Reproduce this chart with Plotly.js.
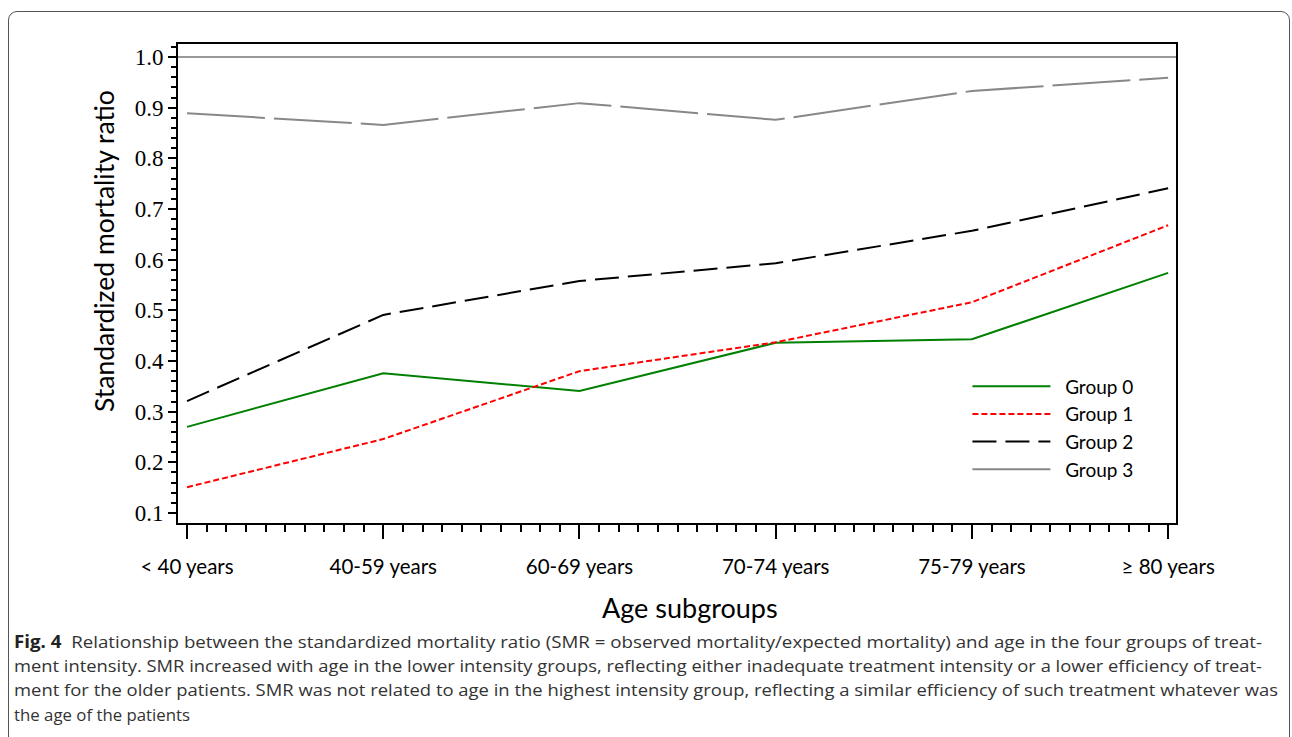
<!DOCTYPE html>
<html>
<head>
<meta charset="utf-8">
<script src="https://cdn.plot.ly/plotly-3.0.1.min.js"></script>
<style>
  html, body { margin: 0; padding: 0; background: #fff; }
  #wrap { position: relative; width: 1292px; height: 737px; overflow: hidden; }
  #chart { position: absolute; left: 0; top: 0; width: 1292px; height: 737px; }
  #frame { position: absolute; left: 8px; top: 11px; width: 1282px; height: 800px;
           border: 1px solid #555; border-radius: 9px; pointer-events: none; box-sizing: border-box; }
  .cap { position: absolute; left: 14px; font-family: "Open Sans", "Noto Sans", sans-serif;
         font-size: 17px; color: #333; white-space: nowrap; transform-origin: 0 50%; line-height: 20px; }
  .cap b { color: #222; }
</style>
</head>
<body>
<div id="wrap">
  <div id="chart"></div>
  <div id="frame"></div>
  <div class="cap" id="c1" data-w="1248" style="top:632px"><b>Fig. 4</b>&nbsp; Relationship between the standardized mortality ratio (SMR = observed mortality/expected mortality) and age in the four groups of treat-</div>
  <div class="cap" id="c2" data-w="1248" style="top:656px">ment intensity. SMR increased with age in the lower intensity groups, reflecting either inadequate treatment intensity or a lower efficiency of treat-</div>
  <div class="cap" id="c3" data-w="1264" style="top:680px">ment for the older patients. SMR was not related to age in the highest intensity group, reflecting a similar efficiency of such treatment whatever was</div>
  <div class="cap" id="c4" data-w="176" style="top:705px">the age of the patients</div>
</div>
<script>
// ---- data ----
const categories = ["< 40 years", "40-59 years", "60-69 years", "70-74 years", "75-79 years", "\u2265 80 years"];
const group0 = [0.270, 0.376, 0.341, 0.436, 0.443, 0.574];
const group1 = [0.151, 0.246, 0.380, 0.437, 0.516, 0.668];
const group2 = [0.321, 0.491, 0.558, 0.593, 0.657, 0.741];
const group3 = [0.889, 0.866, 0.909, 0.876, 0.933, 0.959];
const referenceSMR = 1.0;
const yTickVals = [0.1, 0.2, 0.3, 0.4, 0.5, 0.6, 0.7, 0.8, 0.9, 1.0];
const seriesNames = ["Group 0", "Group 1", "Group 2", "Group 3"];

const xIdx = categories.map((c, i) => i);
const pad = "\u00a0\u00a0";

const traces = [
  { x: xIdx, y: group0, name: pad + seriesNames[0], type: "scatter", mode: "lines",
    line: { color: "#008000", width: 2 } },
  { x: xIdx, y: group1, name: pad + seriesNames[1], type: "scatter", mode: "lines",
    line: { color: "#ff0000", width: 2, dash: "6px,3px" } },
  { x: xIdx, y: group2, name: pad + seriesNames[2], type: "scatter", mode: "lines",
    line: { color: "#000000", width: 2, dash: "24px,9px" } },
  { x: xIdx, y: group3, name: pad + seriesNames[3], type: "scatter", mode: "lines",
    line: { color: "#888888", width: 2, dash: "78px,9px" } },
  { x: [-0.05, 5.05], y: [referenceSMR, referenceSMR], type: "scatter", mode: "lines",
    showlegend: false, hoverinfo: "skip", line: { color: "#999999", width: 2 } }
];

const layout = {
  width: 1292, height: 737,
  margin: { l: 178, r: 116, t: 44, b: 214 },
  paper_bgcolor: "rgba(0,0,0,0)", plot_bgcolor: "#fff",
  showlegend: true,
  legend: {
    x: 0.791, y: 0.325, xanchor: "left", yanchor: "top",
    bgcolor: "rgba(0,0,0,0)", borderwidth: 0,
    font: { family: "Lato, 'Open Sans', sans-serif", size: 19, color: "#000" },
    itemwidth: 78
  },
  xaxis: {
    type: "linear", range: [-0.046, 5.04],
    tickmode: "array", tickvals: xIdx, ticktext: categories,
    ticks: "outside", ticklen: 14, tickwidth: 2, tickcolor: "#000",
    showgrid: false, zeroline: false,
    showline: true, linecolor: "#000", linewidth: 2, mirror: true,
    tickfont: { family: "Lato, 'Open Sans', sans-serif", size: 20.5, color: "#000" },
    ticklabelstandoff: 10,
    minor: { dtick: 0.1, tick0: 0, ticks: "outside", ticklen: 7, tickwidth: 2, tickcolor: "#000", showgrid: false }
  },
  yaxis: {
    range: [0.0803, 1.0257],
    tickmode: "array", tickvals: yTickVals, tickformat: ".1f",
    ticks: "outside", ticklen: 8, tickwidth: 2, tickcolor: "#000",
    showgrid: false, zeroline: false,
    showline: true, linecolor: "#000", linewidth: 2, mirror: true,
    tickfont: { family: "'Liberation Serif', 'DejaVu Serif', serif", size: 23, color: "#000" },
    minor: { dtick: 0.02, tick0: 0, ticks: "outside", ticklen: 5, tickwidth: 2, tickcolor: "#000", showgrid: false }
  },
  annotations: [
    { text: "Standardized mortality ratio", xref: "paper", yref: "paper",
      x: (104 - 178) / 998, y: (523 - 251) / 479, xanchor: "center", yanchor: "middle",
      textangle: -90, showarrow: false,
      font: { family: "Lato, 'Open Sans', sans-serif", size: 26.5, color: "#000" } },
    { text: "Age subgroups", xref: "paper", yref: "paper",
      x: (690 - 178) / 998, y: (523 - 607) / 479, xanchor: "center", yanchor: "middle",
      showarrow: false,
      font: { family: "Lato, 'Open Sans', sans-serif", size: 27, color: "#000" } }
  ]
};

Plotly.newPlot("chart", traces, layout, { displayModeBar: false, staticPlot: true }).then(() => {
  document.querySelectorAll(".cap").forEach(el => {
    const target = parseFloat(el.dataset.w);
    const w = el.getBoundingClientRect().width;
    if (w > 0) el.style.transform = "scaleX(" + (target / w) + ")";
  });
});
</script>
</body>
</html>
